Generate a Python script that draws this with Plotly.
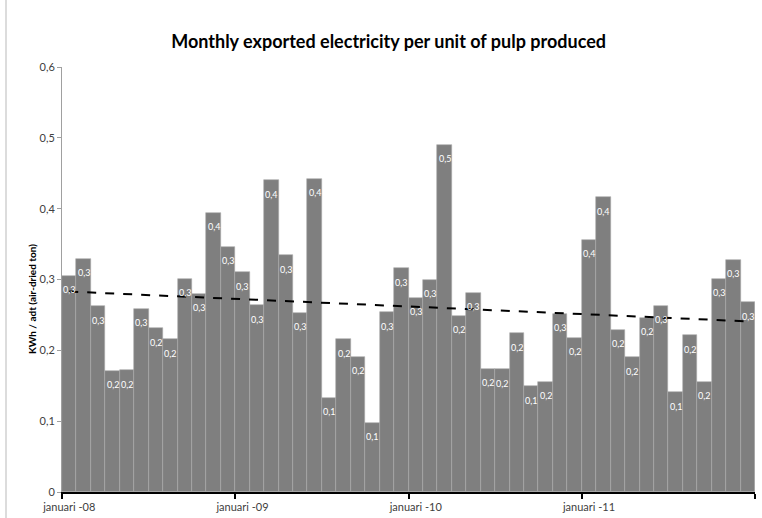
import numpy as np
import plotly.graph_objects as go

# Monthly exported electricity per air-dried ton of pulp, Jan 2008 - Dec 2011
months = [f"{m}-{y}" for y in ("08", "09", "10", "11") for m in (
    "jan", "feb", "mar", "apr", "maj", "jun", "jul", "aug", "sep", "okt", "nov", "dec")]
values = [
    0.305, 0.329, 0.262, 0.171, 0.172, 0.259, 0.231, 0.216, 0.301, 0.280, 0.394, 0.346,
    0.310, 0.264, 0.440, 0.334, 0.253, 0.442, 0.133, 0.216, 0.191, 0.098, 0.254, 0.316,
    0.274, 0.300, 0.490, 0.249, 0.281, 0.174, 0.173, 0.224, 0.149, 0.156, 0.252, 0.218,
    0.356, 0.416, 0.229, 0.190, 0.246, 0.263, 0.141, 0.221, 0.156, 0.301, 0.328, 0.268,
]
year_labels = ["januari -08", "januari -09", "januari -10", "januari -11"]
y_tick_vals = [0, 0.1, 0.2, 0.3, 0.4, 0.5, 0.6]
y_tick_text = ["0", "0,1", "0,2", "0,3", "0,4", "0,5", "0,6"]

x = np.arange(len(values)) + 0.5
vals = np.array(values)

# Linear trend through the monthly values
slope, intercept = np.polyfit(x, vals, 1)
trend_x = [x[0], x[-1]]
trend_y = [intercept + slope * xi for xi in trend_x]

fig = go.Figure()
fig.add_trace(go.Bar(
    x=x, y=vals, width=1.0,
    customdata=months,
    marker=dict(color="#7f7f7f", line=dict(color="#a9a9a9", width=0.6)),
    showlegend=False,
))
fig.add_trace(go.Scatter(
    x=trend_x, y=trend_y, mode="lines",
    line=dict(color="black", width=2, dash="dash"),
    showlegend=False,
))

# Value labels just inside the top of each bar
value_labels = [dict(
    x=xi, y=v, xref="x", yref="y",
    text=f"{v:.1f}".replace(".", ","),
    showarrow=False, yanchor="middle", yshift=-14,
    font=dict(family="Lato", size=9, color="white"),
) for xi, v in zip(x, vals)]

fig.update_layout(
    width=762, height=518,
    margin=dict(l=62, r=7, t=67, b=26),
    paper_bgcolor="white", plot_bgcolor="white",
    bargap=0,
    title=dict(
        text="<b>Monthly exported electricity per unit of pulp produced</b>",
        x=0.51, xanchor="center", y=1 - 42 / 518, yanchor="middle",
        font=dict(family="Lato", size=18, color="black"),
    ),
    font=dict(family="Lato", color="#404040"),
    xaxis=dict(
        range=[0, len(values)],
        tickvals=[0.5, 12.5, 24.5, 36.5], ticktext=year_labels,
        ticks="", showgrid=False, zeroline=False,
        showline=True, linecolor="black", linewidth=2,
        tickfont=dict(size=11, color="#404040"),
        ticklabelstandoff=4, automargin=False,
        minor=dict(tickvals=[0, 12, 24, 36, 48], ticks="outside",
                   ticklen=5, tickcolor="black", tickwidth=1.5),
    ),
    yaxis=dict(
        range=[0, 0.6], tickvals=y_tick_vals, ticktext=y_tick_text,
        ticks="outside", ticklen=4, tickcolor="#a0a0a0",
        showgrid=False, zeroline=False,
        showline=True, linecolor="#a0a0a0", linewidth=1,
        tickfont=dict(size=11, color="#404040"),
    ),
    annotations=value_labels + [dict(
        text="<b>KWh / adt (air-dried ton)</b>", textangle=-90,
        xref="paper", yref="paper", x=(32 - 62) / 693, y=(492 - 299) / 425,
        xanchor="center", yanchor="middle", showarrow=False,
        font=dict(family="Lato", size=10, color="black"),
    )],
    shapes=[dict(
        type="line", xref="paper", yref="paper",
        x0=(6 - 62) / 693, x1=(6 - 62) / 693, y0=(492 - 518) / 425, y1=492 / 425,
        line=dict(color="#d0d0d0", width=1.5),
    )],
)

fig.write_html("out.html")
